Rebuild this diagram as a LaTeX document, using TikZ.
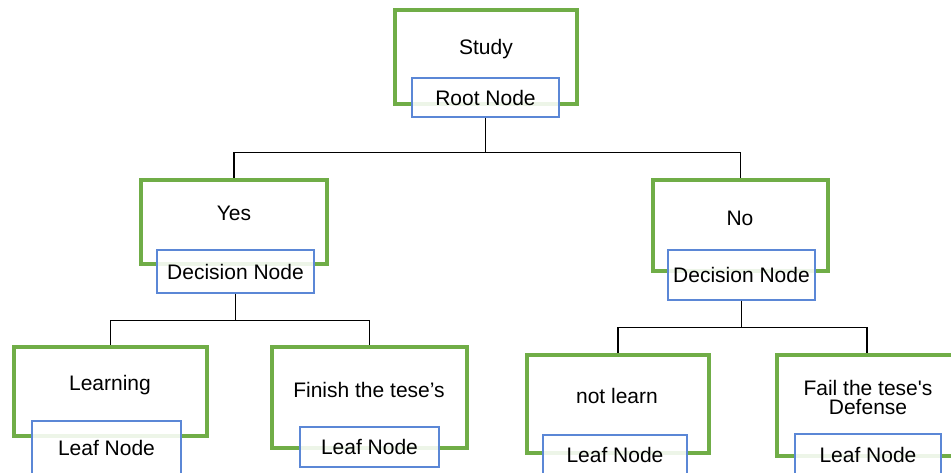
\documentclass[tikz,border=0pt]{standalone}
\usepackage{fontspec}
\setmainfont{Liberation Sans}
\definecolor{framegreen}{HTML}{70AD47}
\definecolor{tagblue}{HTML}{5B87D6}
\tikzstyle{caseframe}=[rectangle, draw=framegreen, line width=4.5pt, inner sep=0pt]
\tikzstyle{nodetag}=[rectangle, draw=tagblue, line width=1.3pt, fill=white, fill opacity=.88, text opacity=1, inner sep=0pt]
\tikzstyle{casetext}=[align=center, inner sep=0pt]
\tikzstyle{link}=[draw=black, line width=1.3pt]
\newcommand{\caseframe}{\node[caseframe]}
\newcommand{\nodetag}{\node[nodetag]}

\begin{document}
\begin{tikzpicture}[x=1pt, y=-1pt, font=\fontsize{21}{22}\selectfont]
\useasboundingbox (0,0) rectangle (951,472);
% green frames
\caseframe[minimum width=182, minimum height=94]  (study)  at (486,57)    {};
\caseframe[minimum width=186, minimum height=84]  (yes)    at (234,222)   {};
\caseframe[minimum width=175, minimum height=91]  (no)     at (740.5,225.5) {};
\caseframe[minimum width=193, minimum height=89]  (learn)  at (110.5,391.5) {};
\caseframe[minimum width=195, minimum height=101] (finish) at (369.5,397.5) {};
\caseframe[minimum width=182, minimum height=98]  (nolearn) at (618,404)  {};
\caseframe[minimum width=180, minimum height=101] (fail)   at (867,405.5) {};
% blue tags
\nodetag[minimum width=147, minimum height=39] (roottag)    at (485.5,97.5) {Root Node};
\nodetag[minimum width=157, minimum height=43] (yestag)     at (235.5,271.5) {Decision Node};
\nodetag[minimum width=147, minimum height=50] (notag)      at (741.5,275)   {Decision Node};
\nodetag[minimum width=149, minimum height=54] (learntag)   at (106.5,448)   {Leaf Node};
\nodetag[minimum width=139, minimum height=40] (finishtag)  at (369.5,447)   {Leaf Node};
\nodetag[minimum width=144, minimum height=40] (nolearntag) at (615,455)     {Leaf Node};
\nodetag[minimum width=146, minimum height=42] (failtag)    at (868,455)     {Leaf Node};
% connectors
\path[link]
(roottag.south) -- ++(0,35) -| (yes.north)
(roottag.south) -- ++(0,35) -| (no.north)
(yestag.south) -- ++(0,27) -| (learn.north)
(yestag.south) -- ++(0,27) -| (finish.north)
(notag.south) -- ++(0,27) -| (nolearn.north)
(notag.south) -- ++(0,27) -| (fail.north);
% frame texts
\node[casetext] (studytxt)   at (486,49)  {Study};
\node[casetext] (yestxt)     at (234,213) {Yes};
\node[casetext] (notxt)      at (740,218) {No};
\node[casetext] (learntxt)   at (110,385) {Learning};
\node[casetext] (finishtxt)  at (369,390) {Finish the tese’s};
\node[casetext] (nolearntxt) at (617,396) {not learn};
\node[casetext] (failtxt)    at (868,397) {Fail the tese\textquotesingle s\\[-3pt]Defense};
\end{tikzpicture}
\end{document}
